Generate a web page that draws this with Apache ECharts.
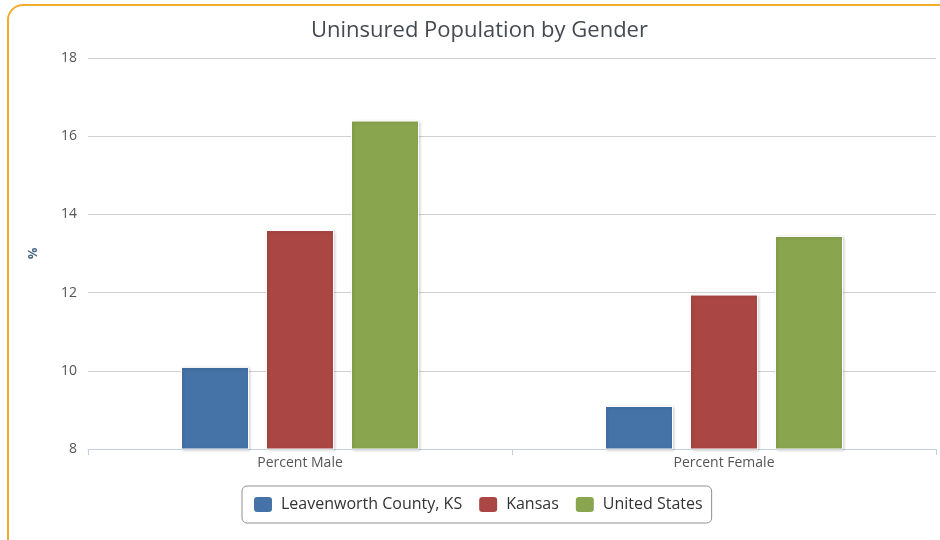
<!DOCTYPE html>
<html>
<head>
<meta charset="utf-8">
<script src="https://cdn.jsdelivr.net/npm/echarts@6/dist/echarts.min.js"></script>
<style>
	html, body { margin: 0; padding: 0; background: #fff; }
	#frame {
		position: absolute; left: 7px; top: 4px; width: 960px; height: 560px;
		border: 2px solid #f2ac2e; border-radius: 16px; box-sizing: border-box;
	}
	#chart { position: absolute; left: 0; top: 0; width: 940px; height: 540px; }
</style>
</head>
<body>
<div id="frame"></div>
<div id="chart"></div>
<script>
var categories = ['Percent Male', 'Percent Female'];
var seriesNames = ['Leavenworth County, KS', 'Kansas', 'United States'];
var leavenworthValues = [10.1, 9.1];
var kansasValues = [13.6, 11.95];
var usValues = [16.4, 13.45];
var seriesColors = ['#4572a7', '#aa4643', '#89a54e'];

var chart = echarts.init(document.getElementById('chart'));

var fontFamily = '"Open Sans", sans-serif';

function makeSeries(name, values, color) {
	return {
		name: name,
		type: 'bar',
		data: values,
		barWidth: 68,
		barGap: '25%',
		itemStyle: {
			color: color,
			borderColor: '#ffffff',
			borderWidth: 1,
			shadowColor: 'rgba(0,0,0,0.18)',
			shadowBlur: 3,
			shadowOffsetX: 1,
			shadowOffsetY: 1
		}
	};
}

chart.setOption({
	animation: false,
	title: {
		text: 'Uninsured Population by Gender',
		left: 306,
		top: 15,
		textStyle: {
			fontFamily: fontFamily,
			fontSize: 22,
			fontWeight: 'normal',
			color: '#444a52'
		}
	},
	grid: {
		left: 88,
		right: 4,
		top: 58,
		bottom: 91
	},
	legend: {
		bottom: 17,
		left: 242,
		data: seriesNames,
		itemWidth: 20,
		itemHeight: 17,
		itemGap: 15,
		icon: 'roundRect',
		borderColor: '#909090',
		borderWidth: 1,
		borderRadius: 5,
		padding: [9, 9, 9, 10],
		textStyle: {
			fontFamily: fontFamily,
			fontSize: 16,
			color: '#333333',
			padding: [0, 0, 0, 3]
		}
	},
	xAxis: {
		type: 'category',
		data: categories,
		axisLine: { lineStyle: { color: '#c0d0e0' } },
		axisTick: { show: true, alignWithLabel: false, length: 6, lineStyle: { color: '#c0d0e0' } },
		axisLabel: {
			fontFamily: fontFamily,
			fontSize: 14,
			color: '#555555',
			margin: 7
		}
	},
	yAxis: {
		type: 'value',
		min: 8,
		max: 18,
		interval: 2,
		name: '%',
		nameLocation: 'middle',
		nameGap: 48,
		nameRotate: 90,
		nameTextStyle: {
			fontFamily: fontFamily,
			fontSize: 13,
			fontWeight: 'bold',
			color: '#4d6a8a'
		},
		axisLine: { show: false },
		axisTick: { show: false },
		axisLabel: {
			fontFamily: fontFamily,
			fontSize: 14,
			color: '#555555',
			margin: 11
		},
		splitLine: { lineStyle: { color: '#d0d0d0' } }
	},
	series: [
		makeSeries(seriesNames[0], leavenworthValues, seriesColors[0]),
		makeSeries(seriesNames[1], kansasValues, seriesColors[1]),
		makeSeries(seriesNames[2], usValues, seriesColors[2])
	]
});
</script>
</body>
</html>
